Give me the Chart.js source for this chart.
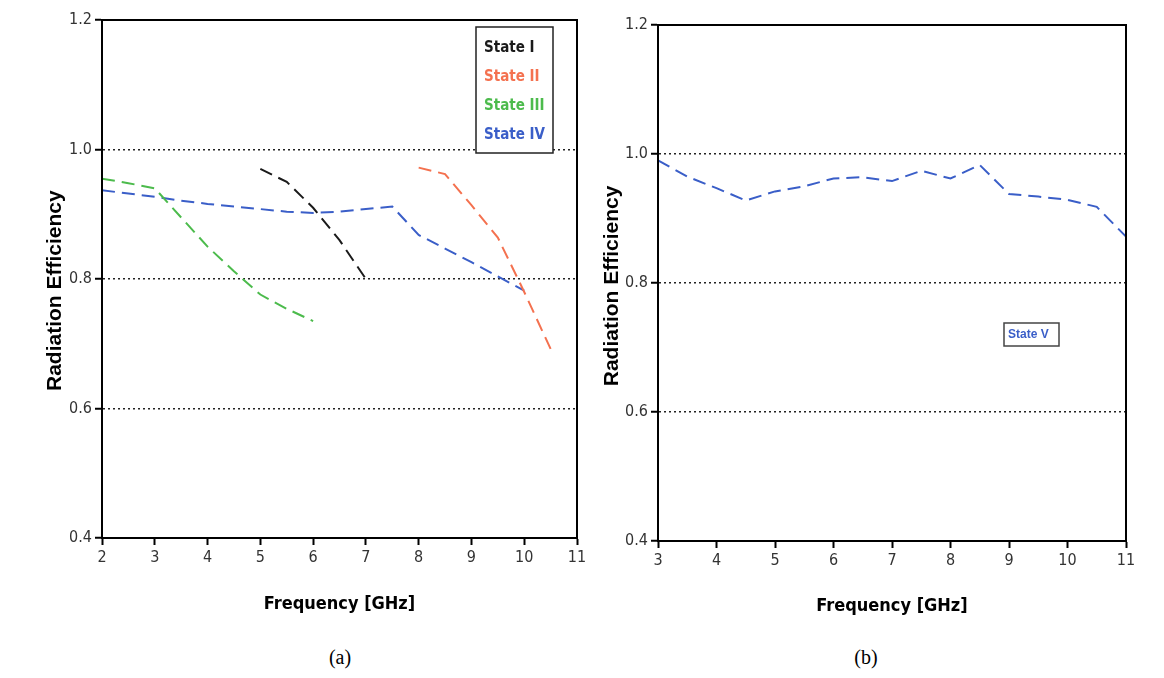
<!DOCTYPE html>
<html>
<head>
<meta charset="utf-8">
<script src="https://cdn.jsdelivr.net/npm/chart.js@4.4.0/dist/chart.umd.min.js"></script>
<style>
    body { margin: 0; background: #fff; width: 1164px; height: 678px; position: relative; overflow: hidden; }
    canvas { position: absolute; top: 0; }
    #chart_a { left: 0; }
    #chart_b { left: 590px; }
    .caption { position: absolute; top: 646px; font-family: "Liberation Serif", serif; font-size: 20px; width: 60px; text-align: center; }
</style>
</head>
<body>
<canvas id="chart_a" width="590" height="640"></canvas>
<canvas id="chart_b" width="574" height="640"></canvas>
<div class="caption" style="left:310px">(a)</div>
<div class="caption" style="left:836px">(b)</div>

<script>
// chart (a)
let freqI = [5, 5.5, 6, 6.5, 7];
let stateI = [0.97, 0.95, 0.91, 0.86, 0.80];

let freqII = [8, 8.5, 9, 9.5, 10, 10.5];
let stateII = [0.972, 0.962, 0.914, 0.864, 0.78, 0.692];

let freqIII = [2, 2.5, 3, 3.5, 4, 4.5, 5, 5.5, 6];
let stateIII = [0.955, 0.948, 0.94, 0.895, 0.85, 0.812, 0.776, 0.754, 0.735];

let freqIV = [2, 2.5, 3, 3.5, 4, 4.5, 5, 5.5, 6, 6.5, 7, 7.5, 8, 8.5, 9, 9.5, 10];
let stateIV = [0.937, 0.932, 0.927, 0.921, 0.916, 0.912, 0.908, 0.904, 0.902, 0.904, 0.908, 0.912, 0.868, 0.847, 0.826, 0.804, 0.782];

// chart (b)
let freqV = [3, 3.5, 4, 4.5, 5, 5.5, 6, 6.5, 7, 7.5, 8, 8.5, 9, 9.5, 10, 10.5, 11];
let stateV = [0.99, 0.965, 0.947, 0.928, 0.942, 0.95, 0.962, 0.964, 0.958, 0.974, 0.962, 0.983, 0.938, 0.934, 0.929, 0.918, 0.872];

let yTicks = [0.4, 0.6, 0.8, 1.0, 1.2];
let gridLevels = [0.6, 0.8, 1.0];

const narrow = '"Liberation Sans Narrow", "Arial Narrow", "DejaVu Sans Condensed", sans-serif';

function toPoints(xs, ys) {
    return xs.map((x, i) => ({ x: x, y: ys[i] }));
}

function lineSet(label, xs, ys, color) {
    return {
        label: label,
        data: toPoints(xs, ys),
        borderColor: color,
        backgroundColor: color,
        borderWidth: 2,
        borderDash: [13, 7],
        pointRadius: 0,
        tension: 0,
        fill: false
    };
}

// black frame round the plot area
const frame = {
    id: 'frame',
    afterDraw(chart) {
        const a = chart.chartArea;
        const ctx = chart.ctx;
        ctx.save();
        ctx.strokeStyle = '#000';
        ctx.lineWidth = 2;
        ctx.strokeRect(a.left, a.top, a.right - a.left, a.bottom - a.top);
        ctx.restore();
    }
};

// legend box drawn inside the plot
const boxLegend = {
    id: 'boxLegend',
    afterDraw(chart, args, opts) {
        const ctx = chart.ctx;
        ctx.save();
        ctx.fillStyle = '#fff';
        ctx.fillRect(opts.x, opts.y, opts.w, opts.h);
        ctx.strokeStyle = opts.border;
        ctx.lineWidth = 1.5;
        ctx.strokeRect(opts.x, opts.y, opts.w, opts.h);
        ctx.font = opts.font;
        ctx.textBaseline = 'middle';
        chart.data.datasets.forEach((ds, i) => {
            ctx.fillStyle = ds.borderColor;
            ctx.fillText(ds.label, opts.textX, opts.rows[i]);
        });
        ctx.restore();
    }
};

function makeOptions(cfg) {
    return {
        responsive: false,
        animation: false,
        layout: {
            padding: { top: cfg.top, right: cfg.right, left: 0, bottom: 0 }
        },
        plugins: {
            legend: { display: false },
            tooltip: { enabled: false },
            boxLegend: cfg.legend
        },
        scales: {
            x: {
                type: 'linear',
                min: cfg.xmin,
                max: 11,
                afterFit: (scale) => { scale.height = cfg.xHeight; },
                afterBuildTicks: (scale) => {
                    let t = [];
                    for (let v = cfg.xmin; v <= 11; v++) t.push({ value: v });
                    scale.ticks = t;
                },
                ticks: {
                    color: '#333',
                    padding: 3,
                    maxRotation: 0,
                    font: { family: narrow, size: 16 }
                },
                grid: {
                    drawOnChartArea: false,
                    tickLength: 7,
                    tickWidth: 2,
                    tickColor: '#000'
                },
                border: { color: '#000', width: 2 },
                title: {
                    display: true,
                    text: 'Frequency [GHz]',
                    color: '#000',
                    font: { family: narrow, size: 18, weight: 'bold' },
                    padding: { top: 0, bottom: cfg.xTitlePad }
                }
            },
            y: {
                min: 0.4,
                max: 1.2,
                afterFit: (scale) => { scale.width = cfg.yWidth; },
                afterBuildTicks: (scale) => {
                    scale.ticks = yTicks.map(v => ({ value: v }));
                },
                ticks: {
                    color: '#333',
                    padding: 3,
                    font: { family: narrow, size: 16 },
                    callback: (v) => Number(v).toFixed(1)
                },
                grid: {
                    color: (c) => (c.tick && gridLevels.some(g => Math.abs(g - c.tick.value) < 1e-6)) ? '#222' : 'rgba(0,0,0,0)',
                    lineWidth: 1.5,
                    tickLength: 7,
                    tickWidth: 2,
                    tickColor: '#000'
                },
                border: { color: '#000', width: 2, dash: [2, 3] },
                title: {
                    display: true,
                    // trailing spaces push the rotated title a little lower, as in the original
                    text: 'Radiation Efficiency' + cfg.yTitleTail,
                    color: '#000',
                    font: { family: '"Liberation Sans", Arial, sans-serif', size: 21, weight: 'bold' },
                    padding: { top: cfg.yTitlePad, bottom: 0 }
                }
            }
        }
    };
}

let ctA = document.getElementById('chart_a').getContext('2d');
let chartA = new Chart(ctA, {
    type: 'line',
    data: {
        datasets: [
            lineSet('State I', freqI, stateI, '#1a1a1a'),
            lineSet('State II', freqII, stateII, '#f4714f'),
            lineSet('State III', freqIII, stateIII, '#4cbb4c'),
            lineSet('State IV', freqIV, stateIV, '#3a5ec8')
        ]
    },
    options: makeOptions({
        top: 20, right: 13, xmin: 2, xHeight: 102, yWidth: 102,
        xTitlePad: 25, yTitlePad: 43, yTitleTail: '    ',
        legend: {
            x: 476, y: 27, w: 77, h: 126, border: '#222',
            textX: 484, rows: [48, 77, 106, 135],
            font: 'bold 15px ' + narrow
        }
    }),
    plugins: [boxLegend, frame]
});

let ctB = document.getElementById('chart_b').getContext('2d');
let chartB = new Chart(ctB, {
    type: 'line',
    data: {
        datasets: [
            lineSet('State V', freqV, stateV, '#3a5ec8')
        ]
    },
    options: makeOptions({
        top: 25, right: 38, xmin: 3, xHeight: 99, yWidth: 68,
        xTitlePad: 23, yTitlePad: 10, yTitleTail: ' ',
        legend: {
            x: 414, y: 323, w: 55, h: 23, border: '#444',
            textX: 418, rows: [335],
            font: 'bold 12px "Liberation Sans", Arial, sans-serif'
        }
    }),
    plugins: [boxLegend, frame]
});
</script>
</body>
</html>
